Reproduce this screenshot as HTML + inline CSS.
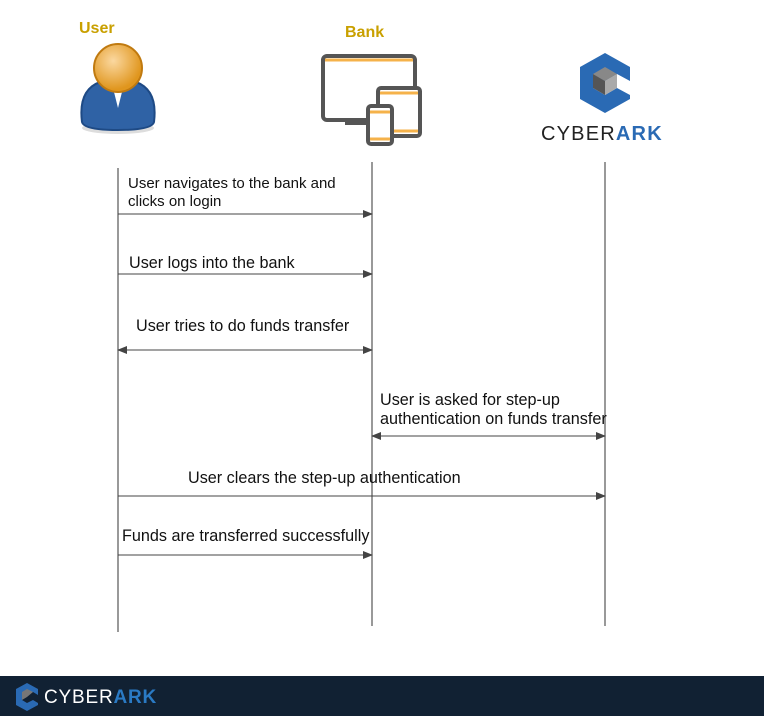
<!DOCTYPE html>
<html><head><meta charset="utf-8"><style>
body{margin:0;width:764px;height:716px;background:#fff;position:relative;overflow:hidden;font-family:"Liberation Sans",sans-serif}
.t{position:absolute;font-size:16.2px;color:#111;white-space:nowrap;line-height:19px}
.h{position:absolute;font-weight:bold;font-size:16px;color:#c9a000}
</style></head><body>
<div class="h" style="left:79px;top:20px">User</div>
<div class="h" style="left:345px;top:24px">Bank</div>
<svg width="764" height="716" style="position:absolute;left:0;top:0">
<defs>
<marker id="a" markerWidth="10" markerHeight="8" refX="9" refY="4" orient="auto" markerUnits="userSpaceOnUse"><path d="M0,0L10,4L0,8z" fill="#444"/></marker>
<marker id="b" markerWidth="10" markerHeight="8" refX="1" refY="4" orient="auto" markerUnits="userSpaceOnUse"><path d="M10,0L0,4L10,8z" fill="#444"/></marker>
<radialGradient id="g" cx="0.4" cy="0.35" r="0.6"><stop offset="0" stop-color="#fbd8a0"/><stop offset="1" stop-color="#e0961e"/></radialGradient>
</defs>
<ellipse cx="118" cy="128" rx="36" ry="6" fill="#ddd"/>
<path d="M82,122 Q78,90 100,82 L136,82 Q158,90 154,122 Q152,130 118,130 Q84,130 82,122z" fill="#2f62a5" stroke="#1e4a85" stroke-width="2"/>
<path d="M112,84 L118,108 L124,84z" fill="#fff"/>
<circle cx="118" cy="68" r="24" fill="url(#g)" stroke="#c07a10" stroke-width="2"/>
<rect x="323" y="56" width="92" height="64" rx="4" fill="none" stroke="#555" stroke-width="4"/>
<line x1="325" y1="60" x2="413" y2="60" stroke="#f5b24a" stroke-width="3"/>
<line x1="345" y1="123" x2="372" y2="123" stroke="#555" stroke-width="4"/>
<rect x="378" y="88" width="42" height="48" rx="3" fill="#fff" stroke="#555" stroke-width="4"/>
<line x1="380" y1="93" x2="418" y2="93" stroke="#f5b24a" stroke-width="3"/>
<line x1="380" y1="131" x2="418" y2="131" stroke="#f5b24a" stroke-width="3"/>
<rect x="368" y="106" width="24" height="38" rx="3" fill="#fff" stroke="#555" stroke-width="4"/>
<line x1="370" y1="112" x2="390" y2="112" stroke="#f5b24a" stroke-width="3"/>
<line x1="370" y1="139" x2="390" y2="139" stroke="#f5b24a" stroke-width="3"/>
<polygon points="605,53 630,67 630,81 617,74 605,81 593,74 593,88 605,95 617,88 630,95 630,99 605,113 580,99 580,67" fill="#2a6ab4"/>
<polygon points="593,74 605,67 617,74 605,81" fill="#888"/><polygon points="605,81 617,74 617,88 605,95" fill="#aaa"/><polygon points="593,74 605,81 605,95 593,88" fill="#555"/>
<text x="541" y="140" font-family="Liberation Sans" font-size="20" fill="#222" letter-spacing="1.2">CYBER<tspan fill="#2a6ab4" font-weight="bold">ARK</tspan></text>
<g stroke="#333" stroke-width="1">
<line x1="118" y1="168" x2="118" y2="632"/>
<line x1="372" y1="162" x2="372" y2="626"/>
<line x1="605" y1="162" x2="605" y2="626"/>
</g>
<g stroke="#444" stroke-width="1" fill="none">
<line x1="118" y1="214" x2="372" y2="214" marker-end="url(#a)"/>
<line x1="118" y1="274" x2="372" y2="274" marker-end="url(#a)"/>
<line x1="118" y1="350" x2="372" y2="350" marker-end="url(#a)" marker-start="url(#b)"/>
<line x1="372" y1="436" x2="605" y2="436" marker-end="url(#a)" marker-start="url(#b)"/>
<line x1="118" y1="496" x2="605" y2="496" marker-end="url(#a)"/>
<line x1="118" y1="555" x2="372" y2="555" marker-end="url(#a)"/>
</g>
<rect x="0" y="676" width="764" height="40" fill="#112133"/>
<polygon points="27,683 38,689 38,695 33,692 27,695 22,692 22,700 27,703 33,700 38,703 38,705 27,711 16,705 16,689" fill="#2a6ab4"/>
<polygon points="22,692 27,689 33,692 27,697 22,700" fill="#777"/>
<text x="44" y="703" font-family="Liberation Sans" font-size="19" fill="#fff" letter-spacing="0.8">CYBER<tspan fill="#2a7ac4" font-weight="bold">ARK</tspan></text>
</svg>
<div class="t" style="left:128px;top:175px;font-size:15px;line-height:18px">User navigates to the bank and<br>clicks on login</div>
<div class="t" style="left:129px;top:254px">User logs into the bank</div>
<div class="t" style="left:136px;top:317px">User tries to do funds transfer</div>
<div class="t" style="left:380px;top:391px">User is asked for step-up<br>authentication on funds transfer</div>
<div class="t" style="left:188px;top:469px">User clears the step-up authentication</div>
<div class="t" style="left:122px;top:527px">Funds are transferred successfully</div>
</body></html>
